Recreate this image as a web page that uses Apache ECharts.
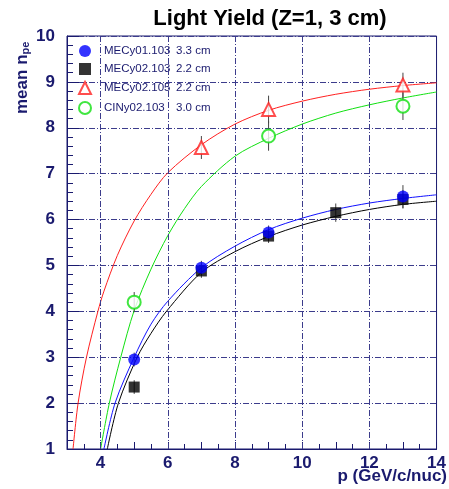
<!DOCTYPE html>
<html><head><meta charset="utf-8">
<script src="https://cdn.jsdelivr.net/npm/echarts@6/dist/echarts.min.js"></script>
<style>html,body{margin:0;padding:0;background:#fff}#c{width:449px;height:489px}</style>
</head><body><div id="c"></div>
<script>
// ---- data ----
const seriesNames = ['MECy01.103', 'MECy02.103', 'MECy02.105', 'CINy02.103'];
const seriesSizes = ['3.3 cm', '2.2 cm', '2.2 cm', '3.0 cm'];
const xGridValues = [4, 6, 8, 10, 12];

const blueX = [5, 7, 9, 13];
const blueY = [2.95, 4.95, 5.72, 6.5];
const blueErr = [0.15, 0.15, 0.15, 0.25];

const blackX = [5, 7, 9, 11, 13];
const blackY = [2.35, 4.88, 5.64, 6.15, 6.44];
const blackErr = [0.15, 0.15, 0.15, 0.2, 0.2];

const redX = [7, 9, 13];
const redY = [7.57, 8.4, 8.93];
const redErr = [0.25, 0.3, 0.27];

const greenX = [5, 9, 13];
const greenY = [4.2, 7.82, 8.47];
const greenErr = [0.22, 0.32, 0.3];

// fitted curves
const redFitX = [3.18, 3.33, 3.58, 3.92, 4.1, 4.5, 5, 5.5, 6, 7, 8, 9, 10, 11, 12, 13, 14];
const redFitY = [1, 2, 3, 4, 4.44, 5.22, 5.97, 6.55, 7.02, 7.63, 8.08, 8.38, 8.58, 8.73, 8.84, 8.92, 8.98];
const greenFitX = [4.0, 4.26, 4.6, 5, 5.5, 6, 6.5, 7, 8, 9, 10, 11, 12, 13, 14];
const greenFitY = [1, 2, 3, 4.02, 4.92, 5.65, 6.24, 6.72, 7.38, 7.77, 8.08, 8.32, 8.5, 8.65, 8.78];
const blueFitX = [4.1, 4.43, 5, 5.5, 6, 7, 8, 9, 10, 11, 12, 13, 14];
const blueFitY = [1, 2, 3, 3.72, 4.22, 4.95, 5.42, 5.78, 6.03, 6.22, 6.36, 6.46, 6.54];
const blackFitX = [4.2, 4.53, 5.09, 5.5, 5.96, 7, 8, 9, 10, 11, 12, 13, 14];
const blackFitY = [1, 2, 3, 3.52, 4, 4.85, 5.3, 5.63, 5.88, 6.07, 6.22, 6.33, 6.4];

// ---- chart ----
const NAVY = '#1a1a6e';
const GRIDC = '#3c3c8c';
const dashDot = [6, 2, 1, 2];
const zip = (xs, ys) => xs.map((x, i) => [x, ys[i]]);
const zip3 = (xs, ys, es) => xs.map((x, i) => [x, ys[i], es[i]]);

function errSeries(xs, ys, es) {
  return {
    type: 'custom', silent: true, z: 3,
    renderItem: (params, api) => {
      const x = api.value(0), y = api.value(1), e = api.value(2);
      const p1 = api.coord([x, y - e]), p2 = api.coord([x, y + e]);
      return { type: 'line', shape: { x1: p1[0], y1: p1[1], x2: p2[0], y2: p2[1] },
               style: { stroke: '#444', lineWidth: 1 } };
    },
    data: zip3(xs, ys, es)
  };
}
function fitSeries(xs, ys, color) {
  return { type: 'line', data: zip(xs, ys), smooth: 0.3, showSymbol: false, silent: true,
           lineStyle: { color: color, width: 1 }, z: 2, clip: true };
}

const chart = echarts.init(document.getElementById('c'), null, { renderer: 'canvas' });
chart.setOption({
  animation: false,
  backgroundColor: '#fff',
  title: {
    text: 'Light Yield (Z=1, 3 cm)', left: 265, top: 3, textAlign: 'center',
    textStyle: { fontFamily: 'Liberation Sans', fontSize: 22, fontWeight: 'bold', color: '#000' }
  },
  grid: { left: 67, right: 6, top: 36, bottom: 40, show: true, borderColor: NAVY, borderWidth: 1, backgroundColor: 'transparent' },
  legend: {
    orient: 'vertical', left: 78, top: 45, padding: 0, itemWidth: 12, itemHeight: 12, itemGap: 6,
    data: seriesNames,
    formatter: name => '{a|' + name + '}{b|' + seriesSizes[seriesNames.indexOf(name)] + '}',
    textStyle: {
      fontFamily: 'Liberation Sans', fontSize: 11, color: NAVY,
      rich: {
        a: { fontFamily: 'Liberation Sans', fontSize: 11.5, color: NAVY, width: 72, padding: [0, 0, 0, 8] },
        b: { fontFamily: 'Liberation Sans', fontSize: 11.5, color: NAVY }
      }
    }
  },
  xAxis: {
    type: 'value', min: 3, max: 14, interval: 1,
    axisLine: { lineStyle: { color: NAVY } },
    axisTick: { inside: true, length: 7, lineStyle: { color: NAVY } },
    minorTick: { show: true, splitNumber: 2, length: 5, lineStyle: { color: NAVY } },
    splitLine: { show: false },
    axisLabel: {
      margin: 6, color: NAVY, fontFamily: 'Liberation Sans', fontSize: 17, fontWeight: 'bold',
      formatter: v => (v % 2 === 0 ? String(v) : ''), showMinLabel: true, showMaxLabel: true
    }
  },
  yAxis: {
    type: 'value', min: 1, max: 10, interval: 1,
    axisLine: { lineStyle: { color: NAVY } },
    axisTick: { inside: true, length: 12, lineStyle: { color: NAVY } },
    minorTick: { show: true, splitNumber: 5, length: 6, lineStyle: { color: NAVY } },
    splitLine: { show: true, lineStyle: { color: GRIDC, type: dashDot, width: 1 } },
    axisLabel: { margin: 12, color: NAVY, fontFamily: 'Liberation Sans', fontSize: 17, fontWeight: 'bold' }
  },
  graphic: [
    { type: 'text', x: 13, y: 114, rotation: Math.PI / 2,
      style: { text: '{m|mean n}{s|pe}', fill: NAVY,
        rich: { m: { fontFamily: 'Liberation Sans', fontSize: 17, fontWeight: 'bold', fill: NAVY },
                s: { fontFamily: 'Liberation Sans', fontSize: 11, fontWeight: 'bold', fill: NAVY, padding: [7, 0, 0, 0] } } } },
    { type: 'text', right: 2, top: 468,
      style: { text: 'p (GeV/c/nuc)', fill: NAVY, font: 'bold 17px "Liberation Sans"' } }
  ],
  series: [
    fitSeries(redFitX, redFitY, '#ff2020'),
    fitSeries(greenFitX, greenFitY, '#10e010'),
    fitSeries(blackFitX, blackFitY, '#000000'),
    fitSeries(blueFitX, blueFitY, '#1010ff'),
    {
      type: 'line', data: [], silent: true,
      markLine: { silent: true, symbol: 'none', label: { show: false },
        lineStyle: { color: GRIDC, type: dashDot, width: 1 },
        data: xGridValues.map(v => ({ xAxis: v })) }
    },
    errSeries(blackX, blackY, blackErr),
    errSeries(blueX, blueY, blueErr),
    errSeries(redX, redY, redErr),
    errSeries(greenX, greenY, greenErr),
    { name: seriesNames[1], type: 'scatter', data: zip(blackX, blackY), symbol: 'rect', symbolSize: 11,
      itemStyle: { color: '#000' }, z: 4 },
    { name: seriesNames[0], type: 'scatter', data: zip(blueX, blueY), symbol: 'circle', symbolSize: 12,
      itemStyle: { color: '#0000ff' }, z: 5 },
    { name: seriesNames[2], type: 'scatter', data: zip(redX, redY), symbol: 'emptyTriangle', symbolSize: 13,
      itemStyle: { color: '#ff2020', borderWidth: 1 }, z: 5 },
    { name: seriesNames[3], type: 'scatter', data: zip(greenX, greenY), symbol: 'emptyCircle', symbolSize: 13,
      itemStyle: { color: '#10e010', borderWidth: 1 }, z: 5 }
  ]
});
</script></body></html>
